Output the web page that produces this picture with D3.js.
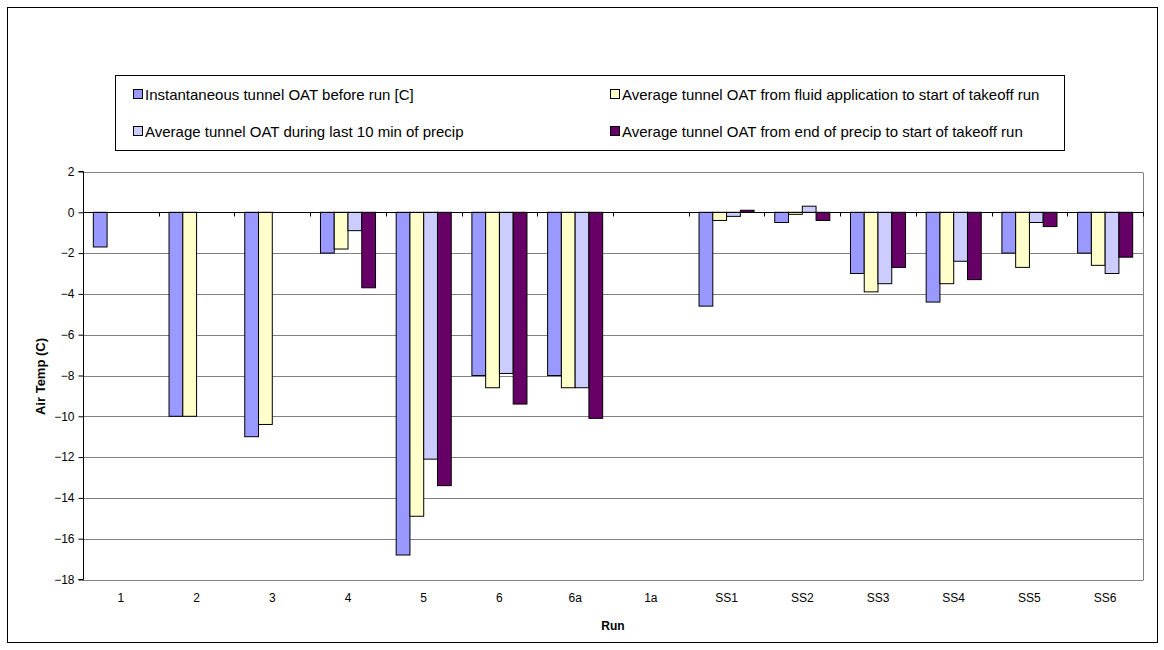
<!DOCTYPE html>
<html>
<head>
<meta charset="utf-8">
<script src="https://cdn.jsdelivr.net/npm/d3@7"></script>
<style>
  html, body { margin: 0; padding: 0; background: #fff; }
  svg { display: block; font-family: "Liberation Sans", Arial, sans-serif; }
</style>
</head>
<body>
<svg id="chart" width="1164" height="650"></svg>
<script>
// Run identifiers along the x axis
const runs = ["1", "2", "3", "4", "5", "6", "6a", "1a", "SS1", "SS2", "SS3", "SS4", "SS5", "SS6"];

// Series names (legend order)
const seriesNames = [
  "Instantaneous tunnel OAT before run [C]",
  "Average tunnel OAT from fluid application to start of takeoff run",
  "Average tunnel OAT during last 10 min of precip",
  "Average tunnel OAT from end of precip to start of takeoff run"
];

// Air temperature values (C) per run; null = no reading
const instantOAT   = [-1.7, -10, -11, -2, -16.8, -8, -8, null, -4.6, -0.5, -3, -4.4, -2, -2];
const fluidToTakeoff = [null, -10, -10.4, -1.8, -14.9, -8.6, -8.6, null, -0.4, -0.1, -3.9, -3.5, -2.7, -2.6];
const last10Precip = [null, null, null, -0.9, -12.1, -7.9, -8.6, null, -0.2, 0.3, -3.5, -2.4, -0.5, -3];
const precipEndToTakeoff = [null, null, null, -3.7, -13.4, -9.4, -10.1, null, 0.1, -0.4, -2.7, -3.3, -0.7, -2.2];

const yTicks = [2, 0, -2, -4, -6, -8, -10, -12, -14, -16, -18];
const seriesColors = ["#9999FF", "#FFFFCC", "#CCCCFF", "#660066"];

const seriesValues = [instantOAT, fluidToTakeoff, last10Precip, precipEndToTakeoff];

const svg = d3.select("#chart");

// Outer chart frame
svg.append("rect")
  .attr("x", 7.5).attr("y", 7.5)
  .attr("width", 1150).attr("height", 635)
  .attr("fill", "#fff").attr("stroke", "#000").attr("stroke-width", 1);

// Plot area
const plot = { left: 83, right: 1143, top: 171.5, bottom: 579.5 };

const x = d3.scaleBand().domain(runs).range([plot.left, plot.right]).paddingInner(0).paddingOuter(0);
const xs = d3.scaleBand().domain(d3.range(seriesNames.length))
  .range([0, x.bandwidth()]).paddingInner(0).paddingOuter(0.75);
const y = d3.scaleLinear().domain([-18, 2]).range([plot.bottom, plot.top]);

// Horizontal gridlines
svg.append("g")
  .selectAll("line")
  .data(yTicks.filter(t => t !== 0))
  .join("line")
  .attr("x1", plot.left).attr("x2", plot.right)
  .attr("y1", d => Math.round(y(d)) + 0.5).attr("y2", d => Math.round(y(d)) + 0.5)
  .attr("stroke", "#808080").attr("stroke-width", 1);

// Right border of plot area
svg.append("line")
  .attr("x1", plot.right + 0.5).attr("x2", plot.right + 0.5)
  .attr("y1", Math.round(y(2)) + 0.5).attr("y2", Math.round(y(-18)) + 0.5)
  .attr("stroke", "#808080");

// Bars
const groups = svg.append("g")
  .selectAll("g")
  .data(seriesValues)
  .join("g")
  .attr("fill", (d, i) => seriesColors[i]);

groups.selectAll("rect")
  .data((vals, si) => vals.map((v, ri) => ({ v, run: runs[ri], si })).filter(d => d.v !== null))
  .join("rect")
  .attr("x", d => x(d.run) + xs(d.si))
  .attr("width", xs.bandwidth())
  .attr("y", d => y(Math.max(0, d.v)))
  .attr("height", d => Math.abs(y(d.v) - y(0)))
  .attr("stroke", "#000").attr("stroke-width", 1);

// Y axis
const yAxis = d3.axisLeft(y).tickValues(yTicks).tickSize(5).tickPadding(4).tickFormat(d3.format("d"));
svg.append("g")
  .attr("transform", `translate(${plot.left + 0.5},0)`)
  .call(yAxis)
  .call(g => g.select(".domain").attr("d", `M-5,${y(2)}H0V${y(-18)}H-5`).attr("stroke", "#000"))
  .call(g => g.selectAll("text").attr("font-size", 12).attr("fill", "#000").attr("font-family", "Liberation Sans, Arial, sans-serif"))
  .call(g => g.selectAll(".tick line").attr("stroke", "#000"));

// X axis along zero line, ticks at category boundaries
const zeroY = Math.round(y(0)) + 0.5;
svg.append("line")
  .attr("x1", plot.left).attr("x2", plot.right + 1)
  .attr("y1", zeroY).attr("y2", zeroY)
  .attr("stroke", "#000");
svg.append("g")
  .selectAll("line")
  .data(runs.slice(1).map(r => x(r)).concat([plot.right]))
  .join("line")
  .attr("x1", d => Math.round(d) + 0.5).attr("x2", d => Math.round(d) + 0.5)
  .attr("y1", zeroY).attr("y2", zeroY + 4)
  .attr("stroke", "#000");

// Category labels below the plot
svg.append("g")
  .selectAll("text")
  .data(runs)
  .join("text")
  .attr("x", d => x(d) + x.bandwidth() / 2)
  .attr("y", 602)
  .attr("text-anchor", "middle")
  .attr("font-size", 12)
  .text(d => d);

// Axis titles
svg.append("text")
  .attr("x", 613).attr("y", 630)
  .attr("text-anchor", "middle")
  .attr("font-size", 12).attr("font-weight", "bold")
  .text("Run");

svg.append("text")
  .attr("transform", `translate(45,${(plot.top + plot.bottom) / 2 + 1}) rotate(-90)`)
  .attr("text-anchor", "middle")
  .attr("font-size", 13).attr("font-weight", "bold")
  .text("Air Temp (C)");

// Legend
const legend = svg.append("g");
legend.append("rect")
  .attr("x", 115.5).attr("y", 75.5)
  .attr("width", 949).attr("height", 75)
  .attr("fill", "#fff").attr("stroke", "#000");

const legendPos = [
  { x: 133, y: 89 }, { x: 610, y: 89 },
  { x: 133, y: 126 }, { x: 610, y: 126 }
];
seriesNames.forEach((name, i) => {
  const p = legendPos[i];
  legend.append("rect")
    .attr("x", p.x + 0.5).attr("y", p.y + 0.5)
    .attr("width", 9).attr("height", 9)
    .attr("fill", seriesColors[i]).attr("stroke", "#000");
  legend.append("text")
    .attr("x", p.x + 12).attr("y", p.y + 11)
    .attr("font-size", 15)
    .text(name);
});
</script>
</body>
</html>
